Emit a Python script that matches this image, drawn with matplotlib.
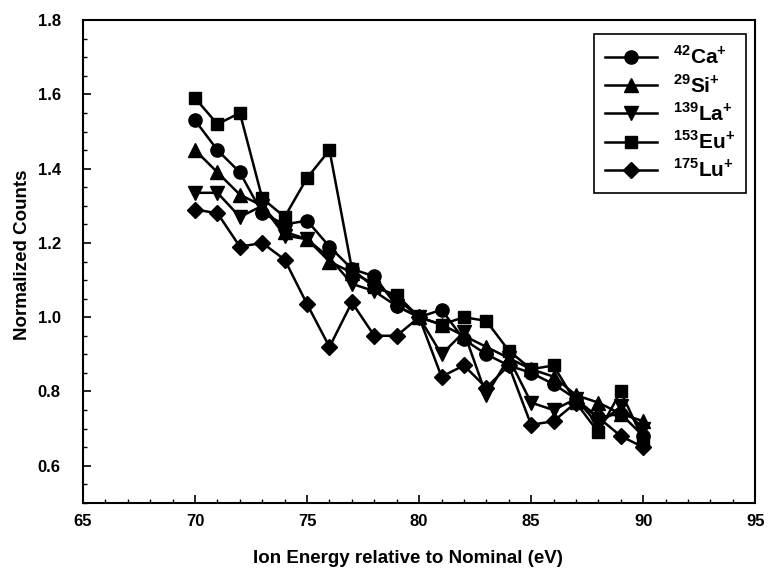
import matplotlib
matplotlib.use("Agg")
import matplotlib.pyplot as plt
from matplotlib.ticker import MultipleLocator

plt.rcParams['font.family'] = ['Liberation Sans', 'DejaVu Sans']
plt.rcParams['font.weight'] = 'bold'
plt.rcParams['axes.labelweight'] = 'bold'
plt.rcParams['mathtext.fontset'] = 'custom'
plt.rcParams['mathtext.rm'] = 'Liberation Sans:bold'

energy = list(range(70, 91))

ca = [1.53, 1.45, 1.39, 1.28, 1.25, 1.26, 1.19, 1.13, 1.11, 1.03, 1.00,
      1.02, 0.94, 0.90, 0.87, 0.85, 0.82, 0.78, 0.73, 0.74, 0.68]
si = [1.45, 1.39, 1.33, 1.30, 1.23, 1.21, 1.15, 1.12, 1.09, 1.05, 1.00,
      0.98, 0.95, 0.92, 0.89, 0.86, 0.84, 0.79, 0.77, 0.74, 0.72]
la = [1.335, 1.335, 1.27, 1.30, 1.22, 1.21, 1.16, 1.09, 1.07, 1.03, 1.00,
      0.90, 0.96, 0.79, 0.89, 0.77, 0.75, 0.78, 0.71, 0.76, 0.70]
eu = [1.59, 1.52, 1.55, 1.32, 1.27, 1.375, 1.45, 1.13, 1.08, 1.06, 1.00,
      0.98, 1.00, 0.99, 0.91, 0.86, 0.87, 0.77, 0.69, 0.80, 0.67]
lu = [1.29, 1.28, 1.19, 1.20, 1.155, 1.035, 0.92, 1.04, 0.95, 0.95, 1.00,
      0.84, 0.87, 0.81, 0.87, 0.71, 0.72, 0.77, 0.73, 0.68, 0.65]

series = [ca, si, la, eu, lu]
labels = [r'$^{42}$Ca$^{+}$', r'$^{29}$Si$^{+}$', r'$^{139}$La$^{+}$',
          r'$^{153}$Eu$^{+}$', r'$^{175}$Lu$^{+}$']
markers = ['o', '^', 'v', 's', 'D']
msizes = [9.5, 9.5, 9.5, 8.5, 8]

fig = plt.figure(figsize=(7.69, 5.76), dpi=100)
ax = fig.add_axes([0.108, 0.127, 0.874, 0.838])

for vals, lab, mk, ms in zip(series, labels, markers, msizes):
    ax.plot(energy, vals, color='black', lw=1.8, marker=mk, ms=ms, label=lab)

ax.set_xlim(65, 95)
ax.set_ylim(0.5, 1.8)
ax.xaxis.set_major_locator(MultipleLocator(5))
ax.xaxis.set_minor_locator(MultipleLocator(1))
ax.yaxis.set_major_locator(MultipleLocator(0.2))
ax.yaxis.set_minor_locator(MultipleLocator(0.05))
ax.yaxis.set_major_formatter(plt.FuncFormatter(lambda v, p: f'{v:.1f}'))
ax.tick_params(which='both', direction='in', labelsize=12, top=False, right=False)
ax.tick_params(which='major', length=6, width=1.2)
ax.tick_params(which='minor', length=3, width=1)
ax.tick_params(axis='x', which='major', pad=8)
ax.tick_params(axis='y', which='major', pad=16)
for s in ax.spines.values():
    s.set_linewidth(1.5)

ax.set_xlabel('Ion Energy relative to Nominal (eV)', fontsize=13.5, labelpad=15)
ax.set_ylabel('Normalized Counts', fontsize=13.5, labelpad=5)
ax.xaxis.label.set_x(0.484)
ax.yaxis.label.set_y(0.513)

leg = ax.legend(loc='upper right', bbox_to_anchor=(0.987, 0.971), borderaxespad=0,
                fancybox=False, edgecolor='black', prop={'size': 15, 'weight': 'bold'},
                handlelength=2.5, handletextpad=0.75, labelspacing=0.27,
                borderpad=0.55, framealpha=1)
leg.get_frame().set_linewidth(1.2)

fig.savefig('out.png', dpi=100)
